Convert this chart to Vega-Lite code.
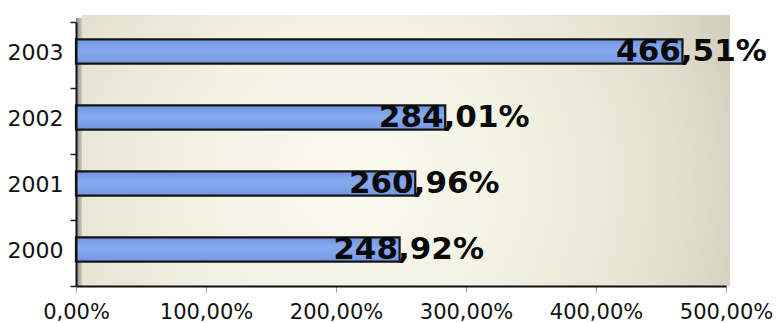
{
  "$schema": "https://vega.github.io/schema/vega-lite/v6.json",
  "width": 650,
  "height": 264,
  "autosize": {"type": "none"},
  "padding": {"left": 76, "top": 22, "right": 53, "bottom": 37},
  "background": "#ffffff",
  "config": {
    "view": {"stroke": null},
    "font": "DejaVu Sans",
    "locale": {
      "number": {"decimal": ",", "thousands": ".", "grouping": [3], "currency": ["", " €"]}
    }
  },
  "data": {
    "values": [
      {"year": "2000", "share": 2.4892},
      {"year": "2001", "share": 2.6096},
      {"year": "2002", "share": 2.8401},
      {"year": "2003", "share": 4.6651}
    ]
  },
  "layer": [
    {
      "data": {"values": [{}]},
      "mark": {
        "type": "rect",
        "xOffset": 0,
        "x2Offset": 6,
        "yOffset": -4,
        "y2Offset": -5,
        "color": {
          "gradient": "linear", "x1": 0, "y1": 0, "x2": 1, "y2": 0,
          "stops": [
            {"offset": 0, "color": "#8e8c86"},
            {"offset": 1, "color": "#cfcabb"}
          ]
        }
      },
      "encoding": {
        "x": {"datum": 0, "type": "quantitative"},
        "x2": {"datum": 0}
      }
    },
    {
      "data": {"values": [{}]},
      "mark": {
        "type": "rect",
        "xOffset": 6,
        "x2Offset": 4,
        "yOffset": -7,
        "y2Offset": -11,
        "color": {
          "gradient": "radial",
          "x1": 0.42, "y1": 0.55, "r1": 0,
          "x2": 0.42, "y2": 0.55, "r2": 0.66,
          "stops": [
            {"offset": 0, "color": "#fafaee"},
            {"offset": 0.4, "color": "#f1f2e2"},
            {"offset": 0.75, "color": "#e4e0cf"},
            {"offset": 1, "color": "#cfc9b7"}
          ]
        }
      },
      "encoding": {
        "x": {"datum": 0, "type": "quantitative"},
        "x2": {"datum": 5}
      }
    },
    {
      "mark": {
        "type": "bar",
        "yOffset": -3.5,
        "height": {"band": 0.37},
        "stroke": "#141414",
        "strokeWidth": 2.2,
        "color": {
          "gradient": "linear", "x1": 0, "y1": 0, "x2": 0, "y2": 1,
          "stops": [
            {"offset": 0, "color": "#7094df"},
            {"offset": 0.45, "color": "#88aaf0"},
            {"offset": 1, "color": "#7397e2"}
          ]
        }
      },
      "encoding": {
        "y": {
          "field": "year",
          "type": "ordinal",
          "sort": "descending",
          "scale": {"paddingInner": 0, "paddingOuter": 0},
          "axis": {
            "title": null,
            "zindex": 1,
            "domainColor": "#111111",
            "domainWidth": 2,
            "tickColor": "#222222",
            "tickWidth": 1.5,
            "tickSize": 6,
            "tickBand": "extent",
            "labelFont": "DejaVu Sans",
            "labelFontSize": 22,
            "labelColor": "#111111",
            "labelPadding": 7,
            "labelOffset": -3
          }
        },
        "x": {
          "field": "share",
          "type": "quantitative",
          "scale": {"domain": [0, 5], "nice": false},
          "axis": {
            "title": null,
            "zindex": 1,
            "grid": false,
            "values": [0, 1, 2, 3, 4, 5],
            "format": ".2%",
            "domainColor": "#111111",
            "domainWidth": 2,
            "tickColor": "#a0a0a0",
            "tickSize": 6,
            "labelFont": "DejaVu Sans",
            "labelFontSize": 21,
            "labelColor": "#111111",
            "labelPadding": 9,
            "labelFlush": false,
            "labelOverlap": false
          }
        }
      }
    },
    {
      "mark": {
        "type": "text",
        "yOffset": -3.5,
        "dx": 9,
        "align": "center",
        "baseline": "middle",
        "font": "DejaVu Sans",
        "fontSize": 31,
        "fontWeight": "bold",
        "color": "#0a0a0a"
      },
      "encoding": {
        "y": {"field": "year", "type": "ordinal", "sort": "descending"},
        "x": {"field": "share", "type": "quantitative"},
        "text": {"field": "share", "type": "quantitative", "format": ".2%"}
      }
    }
  ]
}
